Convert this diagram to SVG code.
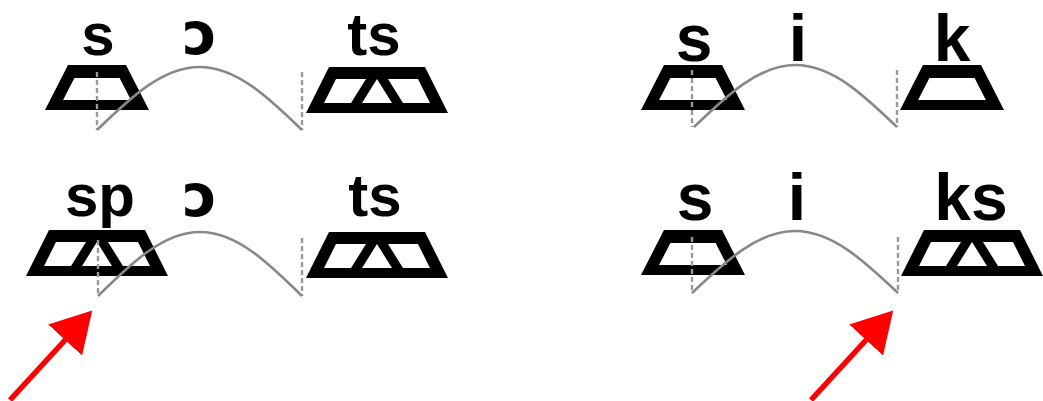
<svg xmlns="http://www.w3.org/2000/svg" xmlns:xlink="http://www.w3.org/1999/xlink" width="1043" height="401" viewBox="0 0 1043 401">
<style>
.lbl{font-family:"Liberation Sans","DejaVu Sans",sans-serif;font-weight:bold;fill:#000;text-anchor:middle}
.l{font-size:60px}
.r{font-size:66px}
.o{font-family:"DejaVu Sans",sans-serif;font-size:58px}
.shape{fill:#000;fill-rule:evenodd}
.curve{fill:none;stroke:#888888;stroke-width:2.6}
.dash{fill:none;stroke:#9a9a9a;stroke-width:2.4;stroke-dasharray:5 3}
.arrow{fill:none;stroke:#ff0000;stroke-width:5.5}
</style>
<defs>
<path id="single" class="shape" d="M-29,0 H29 L52,45 H-52 Z M-22.6,13 H22.6 L33.9,35 H-33.9 Z"/>
<path id="triple" class="shape" d="M-48,0 H48 L71,46 H-71 Z M-41,12 H-11 L-26,36 H-53 Z M0,12 L15,36 H-15 Z M11,12 H41 L53,36 H26 Z"/>
<marker id="head" markerUnits="userSpaceOnUse" markerWidth="42" markerHeight="46" refX="2" refY="23" orient="auto">
<path d="M0,0 L40,23 L0,46 Z" fill="#ff0000"/>
</marker>
</defs>

<g id="node-L1-s"><use xlink:href="#single" x="97" y="65"/><text class="lbl l" x="98" y="54.5">s</text></g>
<g id="node-L1-o"><text class="lbl o" x="200" y="54">ɔ</text></g>
<g id="node-L1-ts"><use xlink:href="#triple" x="377" y="67"/><text class="lbl l" x="374" y="54.5">ts</text></g>

<g id="node-L2-sp"><use xlink:href="#triple" x="97" y="230"/><text class="lbl l" x="100" y="216">sp</text></g>
<g id="node-L2-o"><text class="lbl o" x="200" y="216">ɔ</text></g>
<g id="node-L2-ts"><use xlink:href="#triple" x="377" y="232"/><text class="lbl l" x="375" y="216">ts</text></g>

<g id="node-R1-s"><use xlink:href="#single" x="693" y="65"/><text class="lbl r" x="694" y="60.5">s</text></g>
<g id="node-R1-i"><text class="lbl r" x="798" y="60.5">i</text></g>
<g id="node-R1-k"><use xlink:href="#single" x="952" y="65"/><text class="lbl r" x="952" y="60.5">k</text></g>

<g id="node-R2-s"><use xlink:href="#single" x="693" y="230"/><text class="lbl r" x="695" y="220">s</text></g>
<g id="node-R2-i"><text class="lbl r" x="797" y="220">i</text></g>
<g id="node-R2-ks"><use xlink:href="#triple" x="972" y="230"/><text class="lbl r" x="971" y="220">ks</text></g>

<g id="connectors">
<path class="dash" d="M97,72 V130 M302,72 V130"/>
<path class="curve" d="M97,130 C130.4,97.7 162.4,67 199.5,67 C236.6,67 268.6,97.7 302,130"/>
<path class="dash" d="M98,240 V296 M302,238 V296"/>
<path class="curve" d="M98,296 C131.3,263.2 163.1,232 200,232 C236.9,232 268.7,263.2 302,296"/>
<path class="dash" d="M692,70 V127 M897,70 V127"/>
<path class="curve" d="M694,127 C727.1,95.2 758.8,65 795.5,65 C832.2,65 863.9,95.2 897,127"/>
<path class="dash" d="M692,237 V293 M898,237 V293"/>
<path class="curve" d="M692,293 C725.6,261.2 757.7,231 795,231 C832.3,231 864.4,261.2 898,293"/>
<path class="arrow" marker-end="url(#head)" d="M10,400 L66.5,338.5"/>
<path class="arrow" marker-end="url(#head)" d="M811,400 L867.5,338.5"/>
</g>
</svg>
